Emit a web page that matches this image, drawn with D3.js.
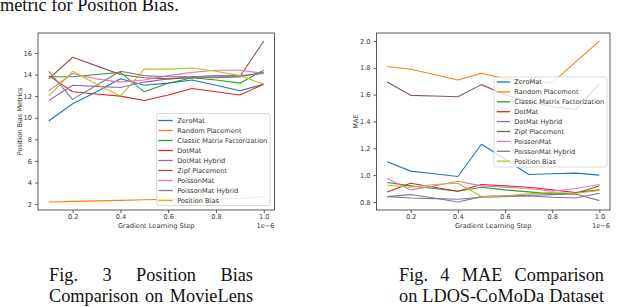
<!DOCTYPE html>
<html>
<head>
<meta charset="utf-8">
<script src="https://cdn.jsdelivr.net/npm/d3@7"></script>
<style>
	body {
		margin: 0;
		background: #fff;
		width: 640px;
		height: 307px;
		overflow: hidden;
		position: relative;
	}
	.cap {
		position: absolute;
		font-family: "Liberation Serif", "Times New Roman", serif;
		font-size: 18.3px;
		line-height: 21.5px;
		color: #111;
		text-align: justify;
		text-align-last: justify;
	}
	svg text {
		font-family: "DejaVu Sans", sans-serif;
	}
</style>
</head>
<body>
<div class="cap" style="left:0px; top:-5px; white-space:nowrap; text-align:left; text-align-last:left">metric for Position Bias.</div>
<svg id="chart" width="640" height="307" style="position:absolute; left:0; top:0"></svg>
<div class="cap" style="left:49px; top:264.7px; width:204px">Fig. 3 Position Bias<br>Comparison on MovieLens</div>
<div class="cap" style="left:399px; top:264.7px; width:205px">Fig. 4 MAE Comparison<br>on LDOS-CoMoDa Dataset</div>
<script>
//data
const steps = [0.1, 0.2, 0.3, 0.4, 0.5, 0.6, 0.7, 0.8, 0.9, 1.0];
const xTicks = [0.2, 0.4, 0.6, 0.8, 1.0];
const biasTicks = [2, 4, 6, 8, 10, 12, 14, 16];
const maeTicks = [0.8, 1.0, 1.2, 1.4, 1.6, 1.8, 2.0];

const seriesNames = [
	"ZeroMat",
	"Random Placement",
	"Classic Matrix Factorization",
	"DotMat",
	"DotMat Hybrid",
	"Zipf Placement",
	"PoissonMat",
	"PoissonMat Hybrid",
	"Position Bias",
];
const seriesColors = ["#1f77b4", "#ff7f0e", "#2ca02c", "#d62728", "#9467bd", "#8c564b", "#e377c2", "#7f7f7f", "#bcbd22"];

//Fig. 3, position bias metric per series (same order as seriesNames)
const biasValues = [
	[9.7, 11.3, 12.4, 13.6, 13.0, 13.2, 13.5, 13.0, 12.5, 13.1],
	[2.2, 2.25, 2.3, 2.35, 2.4, 2.45, 2.5, 2.5, 2.5, 2.7],
	[13.8, 13.8, 14.0, 14.2, 12.4, 13.2, 13.7, 13.5, 13.2, 14.4],
	[13.9, 12.4, 12.2, 12.0, 11.6, 12.1, 12.7, 12.4, 12.1, 13.1],
	[11.6, 13.0, 12.9, 12.8, 13.3, 13.6, 13.8, 13.9, 13.9, 14.1],
	[13.6, 15.6, 14.8, 14.0, 13.7, 13.6, 13.7, 13.7, 13.8, 17.1],
	[12.5, 14.1, 13.6, 13.3, 13.5, 13.9, 14.2, 14.4, 14.4, 14.1],
	[14.3, 11.7, 13.0, 14.3, 13.9, 13.8, 13.8, 13.8, 13.8, 14.2],
	[12.0, 14.3, 13.1, 12.0, 14.5, 14.5, 14.6, 14.3, 13.9, 13.1],
];

//Fig. 4, MAE per series
const maeValues = [
	[1.10, 1.03, 1.01, 0.99, 1.23, 1.12, 1.005, 1.01, 1.015, 1.0],
	[1.81, 1.79, 1.75, 1.71, 1.76, 1.72, 1.70, 1.69, 1.845, 2.0],
	[0.945, 0.92, 0.90, 0.88, 0.91, 0.89, 0.875, 0.86, 0.865, 0.92],
	[0.875, 0.94, 0.91, 0.88, 0.93, 0.92, 0.91, 0.89, 0.87, 0.89],
	[0.84, 0.83, 0.825, 0.82, 0.835, 0.84, 0.845, 0.835, 0.83, 0.865],
	[1.695, 1.595, 1.59, 1.585, 1.675, 1.60, 1.55, 1.51, 1.49, 1.68],
	[0.975, 0.89, 0.92, 0.955, 0.92, 0.91, 0.90, 0.88, 0.90, 0.93],
	[0.84, 0.855, 0.83, 0.80, 0.84, 0.845, 0.85, 0.855, 0.86, 0.81],
	[0.925, 0.91, 0.93, 0.94, 0.84, 0.845, 0.86, 0.87, 0.865, 0.885],
];

const svg = d3.select("#chart");
const ink = "#333";
const fontSize = 6.6;

function drawPanel(o) {
	const g = svg.append("g");

	//matplotlib style 5% margins around the data
	const [lo, hi] = d3.extent(o.values.flat());
	const yPad = (hi - lo) * 0.05;
	const xPad = (steps[steps.length - 1] - steps[0]) * 0.05;
	const x = d3
		.scaleLinear()
		.domain([steps[0] - xPad, steps[steps.length - 1] + xPad])
		.range([o.left, o.right]);
	const y = d3
		.scaleLinear()
		.domain([lo - yPad, hi + yPad])
		.range([o.bottom, o.top]);

	const xAxis = g
		.append("g")
		.attr("transform", `translate(0, ${o.bottom})`)
		.call(d3.axisBottom(x).tickValues(xTicks).tickFormat(d3.format(".1f")).tickSize(3).tickPadding(1));
	const yAxis = g
		.append("g")
		.attr("transform", `translate(${o.left}, 0)`)
		.call(d3.axisLeft(y).tickValues(o.yTicks).tickFormat(o.tickFormat).tickSize(3).tickPadding(3));
	[xAxis, yAxis].forEach((a) => {
		a.select(".domain").remove();
		a.selectAll("line").attr("stroke", ink).attr("stroke-width", 0.8);
		a.selectAll("text").attr("font-size", fontSize).attr("fill", ink);
	});

	//series lines
	const line = d3
		.line()
		.x((d, i) => x(steps[i]))
		.y((d) => y(d));
	g.selectAll(".series")
		.data(o.values)
		.enter()
		.append("path")
		.attr("class", "series")
		.attr("fill", "none")
		.attr("stroke", (d, i) => seriesColors[i])
		.attr("stroke-width", 1.1)
		.attr("stroke-linejoin", "round")
		.attr("d", line);

	//frame
	g.append("rect")
		.attr("x", o.left)
		.attr("y", o.top)
		.attr("width", o.right - o.left)
		.attr("height", o.bottom - o.top)
		.attr("fill", "none")
		.attr("stroke", ink)
		.attr("stroke-width", 0.8);

	//legend
	const lg = o.legend;
	g.append("rect")
		.attr("x", lg.x)
		.attr("y", lg.y)
		.attr("width", lg.w)
		.attr("height", lg.h)
		.attr("rx", 2)
		.attr("fill", "#fff")
		.attr("fill-opacity", 0.8)
		.attr("stroke", "#d0d0d0")
		.attr("stroke-width", 0.8);
	const items = g
		.selectAll(".item")
		.data(seriesNames)
		.enter()
		.append("g")
		.attr("class", "item")
		.attr("transform", (d, i) => `translate(${lg.x}, ${lg.first + i * lg.step})`);
	items
		.append("line")
		.attr("x1", lg.handle[0])
		.attr("x2", lg.handle[1])
		.attr("stroke", (d, i) => seriesColors[i])
		.attr("stroke-width", 1.3);
	items
		.append("text")
		.attr("x", lg.textX)
		.attr("y", 2.3)
		.attr("font-size", fontSize)
		.attr("fill", ink)
		.text((d) => d);

	//axis labels and offset text
	g.append("text")
		.attr("x", (o.left + o.right) / 2)
		.attr("y", 228)
		.attr("text-anchor", "middle")
		.attr("font-size", fontSize)
		.attr("fill", ink)
		.text("Gradient Learning Step");
	g.append("text")
		.attr("x", o.right)
		.attr("y", 227.7)
		.attr("text-anchor", "end")
		.attr("font-size", fontSize)
		.attr("fill", ink)
		.text("1e\u22126");
	g.append("text")
		.attr("transform", `translate(${o.yLabelX}, ${(o.top + o.bottom) / 2}) rotate(-90)`)
		.attr("text-anchor", "middle")
		.attr("font-size", fontSize)
		.attr("fill", ink)
		.text(o.yLabel);
}

drawPanel({
	values: biasValues,
	yTicks: biasTicks,
	tickFormat: d3.format("d"),
	yLabel: "Position Bias Metrics",
	yLabelX: 22,
	left: 38,
	right: 274.5,
	top: 33,
	bottom: 210,
	legend: { x: 156.7, y: 113.5, w: 113.3, h: 92, first: 120.5, step: 10, handle: [1.6, 16], textX: 20.6 },
});

drawPanel({
	values: maeValues,
	yTicks: maeTicks,
	tickFormat: d3.format(".1f"),
	yLabel: "MAE",
	yLabelX: 357.5,
	left: 376.5,
	right: 610,
	top: 33,
	bottom: 210,
	legend: { x: 494, y: 77, w: 113, h: 90, first: 82, step: 9.9, handle: [2.7, 16], textX: 20.3 },
});
</script>
</body>
</html>
